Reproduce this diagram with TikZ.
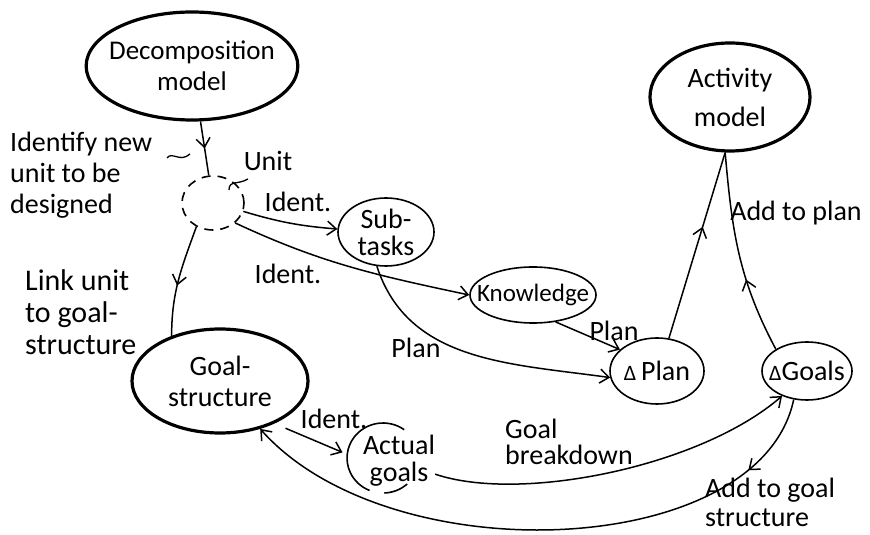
\documentclass[tikz,border=0pt]{standalone}
\usepackage{fontspec}
\setmainfont{Carlito}
\usetikzlibrary{shapes.geometric, arrows.meta, positioning, decorations.markings}

\newcommand{\dtri}{{\fontsize{22}{22}\selectfont Δ}}

\begin{document}
\begin{tikzpicture}[x=1pt, y=1pt,
        font=\fontsize{28}{31}\selectfont,
        >={Straight Barb[length=9pt,width=14pt]},
        model/.style={ellipse, draw, line width=3.2pt, inner sep=0pt, align=center},
        part/.style={ellipse, draw, line width=1.6pt, inner sep=0pt, align=center},
        lbl/.style={inner sep=0pt, align=left},
        link/.style={line width=1.5pt},
        midtip/.style={postaction={decorate}, decoration={markings,
            mark=at position #1 with {\arrow{>}}}}]
        \useasboundingbox (0,0) rectangle (870,535);

        % Models
        \node[model, inner xsep=-8pt, minimum width=206pt, minimum height=108pt,
            font=\fontsize{27}{31}\selectfont] (decomp) at (192,469) {Decomposition\\model};
        \node[model, minimum width=160pt, minimum height=108pt] (activity) at (730,438) {Activity\\[8pt]model};
        \node[model, minimum width=176pt, minimum height=104pt] (goalstr) at (220,154) {Goal-\\structure};

        % Parts
        \node[part, dashed, dash pattern=on 9pt off 7pt, minimum width=62pt, minimum height=54pt] (unit) at (213,332) {};
        \node[part, minimum width=96pt, minimum height=68pt] (subtasks) at (386,303) {Sub-\\[-4pt]tasks};
        \node[part, inner xsep=-16pt, minimum width=126pt, minimum height=56pt,
            font=\fontsize{25}{30}\selectfont] (knowledge) at (533,240) {Knowledge};
        \node[part, minimum width=94pt, minimum height=66pt] (dplan) at (657,164) {\dtri\,Plan};
        \node[part, inner xsep=-8pt, minimum width=90pt, minimum height=58pt] (dgoals) at (807,164) {\dtri Goals};
        \node[lbl, align=center] (actual) at (399,74) {Actual\\[-4pt]goals};
        \draw[line width=1.6pt] (404.2,105.3) arc[start angle=54, end angle=248, x radius=36, y radius=35];
        \draw[line width=1.6pt] (384.3,42) arc[start angle=272, end angle=312, x radius=36, y radius=35];

        % Labels
        \node[lbl, anchor=west] (identify) at (10,360) {Identify new\\unit to be\\designed};
        \node[lbl] (unitlbl) at (268,374) {Unit};
        \node[lbl] (identa) at (298,333) {Ident.};
        \node[lbl] (identb) at (288,261) {Ident.};
        \node[lbl] (identc) at (334,116) {Ident.};
        \node[lbl] (plana) at (416,187) {Plan};
        \node[lbl] (planb) at (614,204) {Plan};
        \node[lbl] (addplan) at (796,322) {Add to plan};
        \node[lbl, anchor=west, font=\fontsize{30}{32}\selectfont] (linkunit) at (25,223) {Link unit\\to goal-\\structure};
        \node[lbl, anchor=west] (goalbrk) at (505,93) {Goal\\[-5pt]breakdown};
        \node[lbl, anchor=west] (addgoal) at (705,33) {Add to goal\\[-2pt]structure};
        \draw[line width=1.3pt] (167,377) .. controls (172,384) and (180,372) .. (190,381);
        \draw[line width=1.3pt] (229,345) .. controls (229,355) and (238,350) .. (248,356);

        % Connectors
        \draw[link, midtip=0.5] (decomp) -- (unit);
        \draw[link, ->] (unit) to[bend right=6] (subtasks);
        \draw[link, ->] (unit.-42) to[out=-25, in=168] (knowledge.west);
        \draw[link, midtip=0.55] (unit.235) to[out=250, in=90] (goalstr.137);
        \draw[link, ->] (subtasks.255) to[out=-72, in=172] (dplan.188);
        \draw[link, ->] (knowledge.-50) -- (dplan.150);
        \draw[link, midtip=0.6] (dplan.70) -- (activity.-95);
        \draw[link, midtip=0.37] (dgoals.145) to[out=118, in=-85] (activity.-95);
        \draw[link, ->] (actual.-20) .. controls (520,32) and (700,68) .. (dgoals.225);
        \draw[link, ->, midtip=0.14] (dgoals.-115) .. controls (760,-25) and (390,-40) .. (goalstr.-50);
        \draw[link, ->, shorten <=12pt, shorten >=22pt] (goalstr.-38) -- (actual.west);
    \end{tikzpicture}
\end{document}
